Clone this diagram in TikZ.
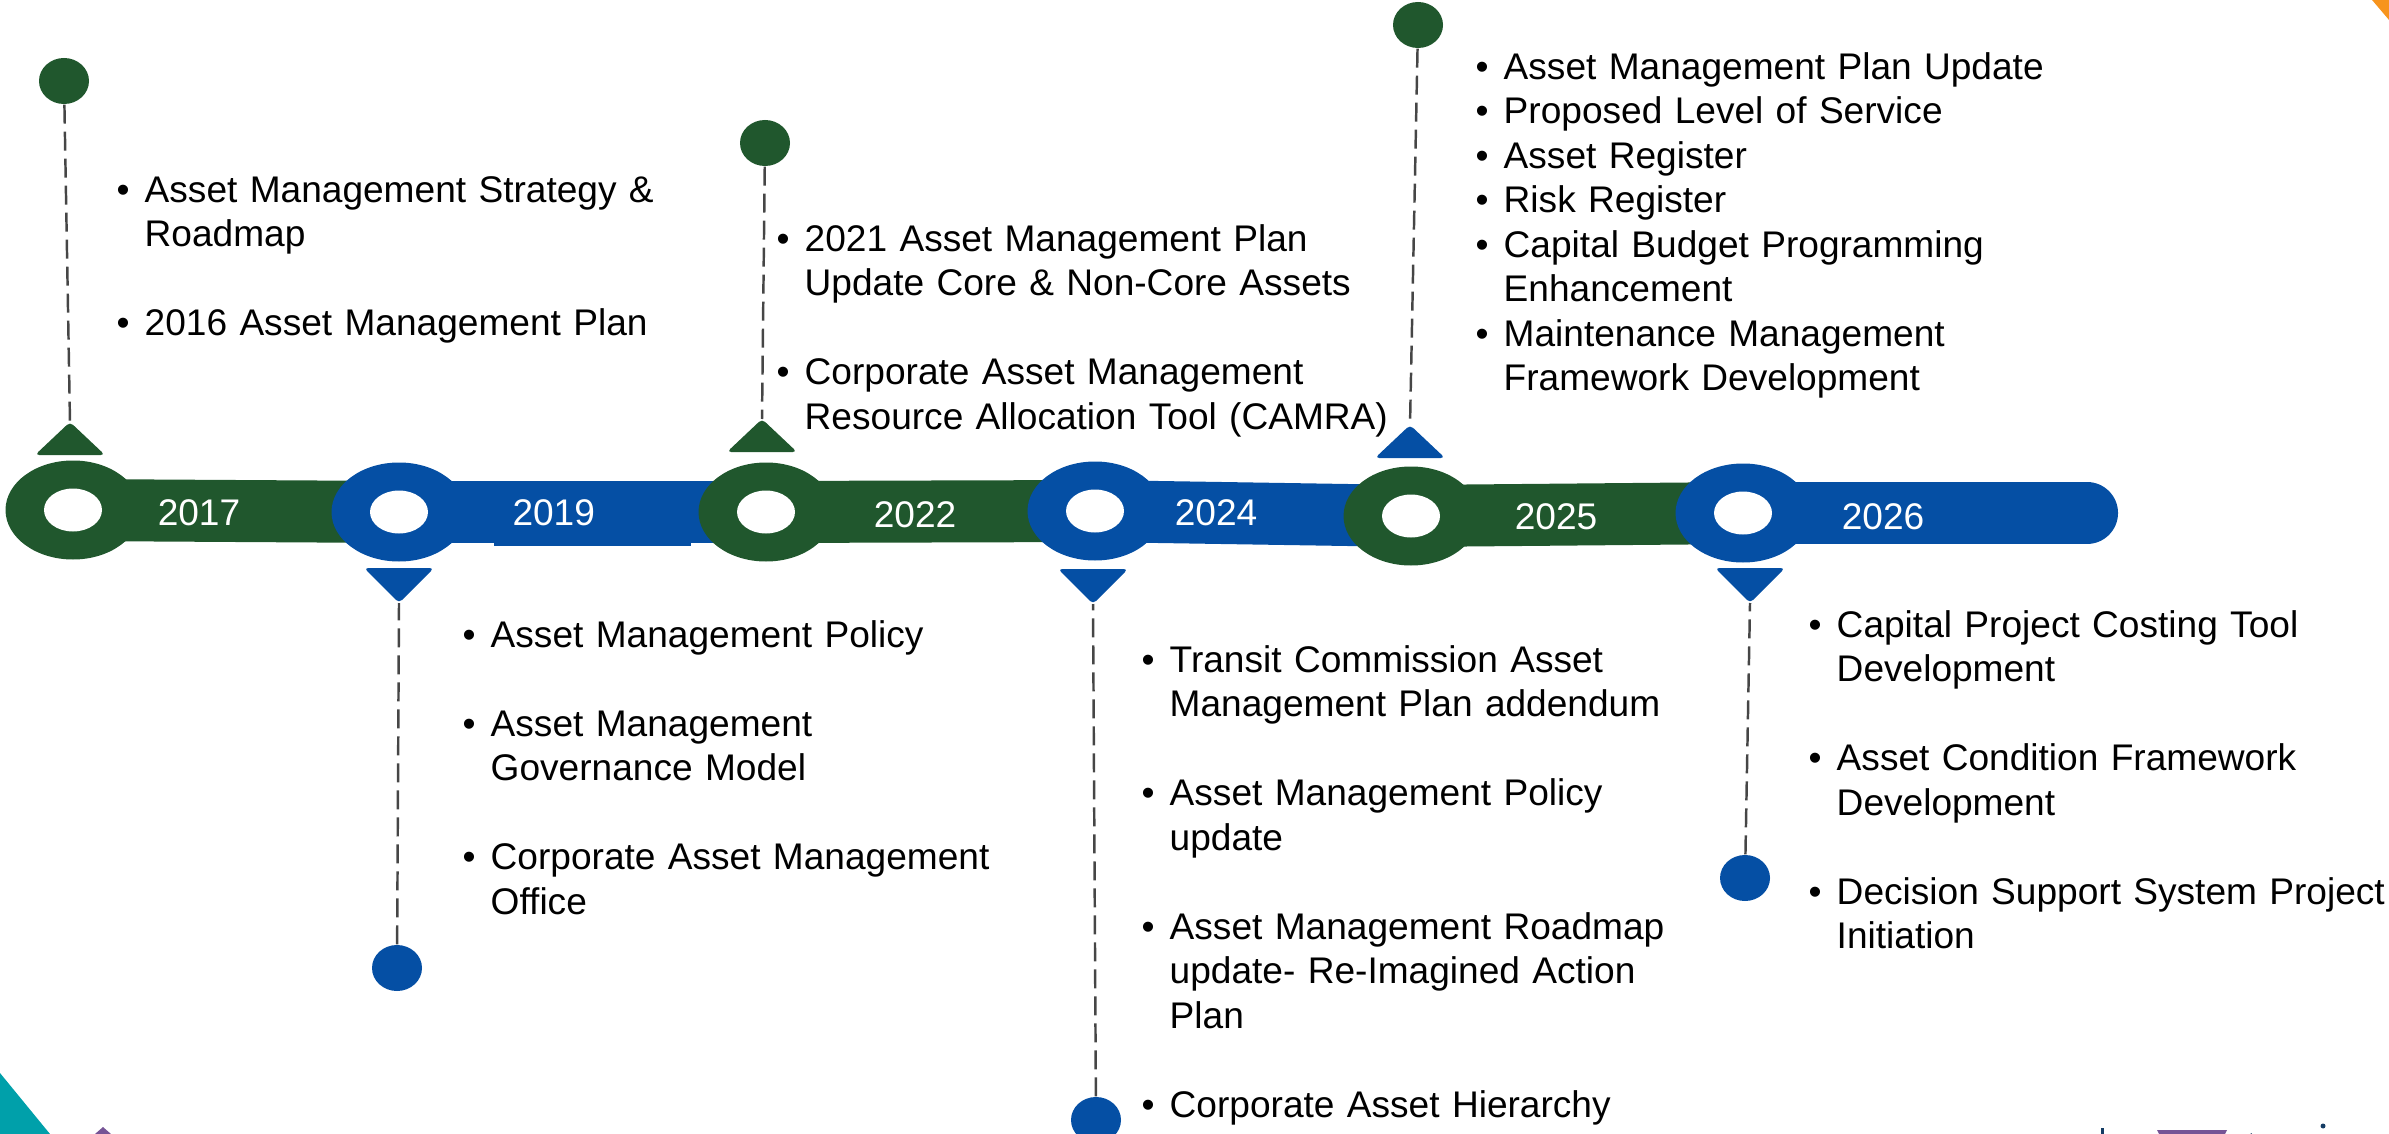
\documentclass[tikz,border=0pt]{standalone}
\usepackage{fontspec}
\setmainfont{Liberation Sans}
\usetikzlibrary{shapes.geometric, backgrounds}
\definecolor{amGreen}{RGB}{32,87,45}
\definecolor{amBlue}{RGB}{5,79,164}
\definecolor{amGrey}{RGB}{70,70,70}
\definecolor{amTeal}{RGB}{0,160,170}
\definecolor{amOrange}{RGB}{247,148,29}
\definecolor{amPurple}{RGB}{118,84,150}
\definecolor{amNavy}{RGB}{20,60,100}
\newlength{\bhang}\setlength{\bhang}{2.8mm}
\newcommand{\bitem}[1]{\par\hangindent=\bhang\hangafter=1\noindent\hbox to\bhang{\textbullet\hfil}#1\par}
\newcommand{\bgap}{\par\vspace{12.66pt}}
\tikzset{
  ring/.style={ellipse, inner sep=0pt, minimum width=13.5mm, minimum height=9.9mm},
  hole/.style={ellipse, fill=white, inner sep=0pt, minimum width=5.8mm, minimum height=4.3mm},
  dot/.style={ellipse, inner sep=0pt, minimum width=5mm, minimum height=4.6mm},
  bar/.style={line width=6.2mm},
  year/.style={text=white, inner sep=0pt, font=\fontsize{10.55}{12.66}\selectfont},
  lead/.style={amGrey, line width=0.7pt, dash pattern=on 1.9mm off 0.8mm},
  notes/.style={anchor=base west, text width=75mm, align=left, inner sep=0pt,
                font=\fontsize{10.55}{12.66}\selectfont},
  upmark/.pic={\fill[rounded corners=1.2pt] (-35,0) -- (0,-33) -- (35,0) -- cycle;},
  downmark/.pic={\fill[rounded corners=1.2pt] (-35,0) -- (0,35) -- (35,0) -- cycle;},
}

\begin{document}
\begin{tikzpicture}[x=0.1mm, y=-0.1mm]
    \useasboundingbox (0,0) rectangle (2389,1134);
    % corner pieces
    \fill[amTeal] (0,1073) -- (50,1134) -- (0,1134) -- cycle;
    \fill[amPurple] (95,1134) -- (103,1127) -- (111,1134) -- cycle;
    \fill[amOrange] (2372,0) -- (2389,0) -- (2389,20) -- cycle;
    \fill[amPurple] (2157,1130) -- (2227,1130) -- (2225,1134) -- (2159,1134) -- cycle;
    \fill[amNavy] (2101,1128) rectangle (2104,1134);
    \draw[amNavy, line width=1pt] (2250,1134) arc[start angle=180, end angle=20, x radius=15, y radius=6];
    \fill[amNavy] (2323,1126) circle (2.5);
    % timeline
    \node[ring, fill=amGreen] (r17) at (73,510)   {};
    \node[ring, fill=amBlue]  (r19) at (399,512)  {};
    \node[ring, fill=amGreen] (r22) at (766,512)  {};
    \node[ring, fill=amBlue]  (r24) at (1095,511) {};
    \node[ring, fill=amGreen] (r25) at (1411,516) {};
    \node[ring, fill=amBlue]  (r26) at (1743,513) {};
    \coordinate (e26) at (2087,513);
    \foreach \r in {r17,r19,r22,r24,r25,r26}
      \node[hole] at (\r) {};
    \begin{scope}[on background layer]
      \draw[bar, amGreen] (r17.center) -- (r19.center);
      \draw[bar, amBlue]  (r19.center) -- (r22.center);
      \draw[bar, amGreen] (r22.center) -- (r24.center);
      \draw[bar, amBlue]  (r24.center) -- (r25.center);
      \draw[bar, amGreen] (r25.center) -- (r26.center);
      \draw[bar, amBlue, line cap=round] (r26.center) -- (e26);
    \end{scope}
    \node[year] (y17) at (199,513)  {2017};
    \node[year, fill=amBlue, text width=15.9mm, inner xsep=1.9mm, minimum height=6.5mm, align=left]
      (y19) at (592,513) {2019};
    \node[year] (y22) at (915,515)  {2022};
    \node[year] (y24) at (1216,513) {2024};
    \node[year] (y25) at (1556,517) {2025};
    \node[year] (y26) at (1883,517) {2026};
    % markers
    \pic[color=amGreen] at (70,455)   {upmark};
    \pic[color=amBlue]  at (399,568)  {downmark};
    \pic[color=amGreen] at (762,452)  {upmark};
    \pic[color=amBlue]  at (1093,569) {downmark};
    \pic[color=amBlue]  at (1410,458) {upmark};
    \pic[color=amBlue]  at (1750,568) {downmark};
    \coordinate (t17) at (70,422);
    \coordinate (t19) at (399,603);
    \coordinate (t22) at (762,419);
    \coordinate (t24) at (1093,604);
    \coordinate (t25) at (1410,425);
    \coordinate (t26) at (1750,603);
    \node[dot, fill=amGreen] (d17) at (64,81)    {};
    \node[dot, fill=amBlue]  (d19) at (397,968)  {};
    \node[dot, fill=amGreen] (d22) at (765,143)  {};
    \node[dot, fill=amBlue]  (d24) at (1096,1120) {};
    \node[dot, fill=amGreen] (d25) at (1418,25)  {};
    \node[dot, fill=amBlue]  (d26) at (1745,878) {};
    \draw[lead] (d17) -- (t17);
    \draw[lead] (d19) -- (t19);
    \draw[lead] (d22) -- (t22);
    \draw[lead] (d24) -- (t24);
    \draw[lead] (d25) -- (t25);
    \draw[lead] (d26) -- (t26);
    % notes
    \node[notes] (n17) at (116,158) {\bitem{Asset Management Strategy \&\newline Roadmap}\bgap
      \bitem{2016 Asset Management Plan}};
    \node[notes] (n19) at (462,603) {\bitem{Asset Management Policy}\bgap
      \bitem{Asset Management\newline Governance Model}\bgap
      \bitem{Corporate Asset Management\newline Office}};
    \node[notes] (n22) at (776,207) {\bitem{2021 Asset Management Plan\newline Update Core \& Non-Core Assets}\bgap
      \bitem{Corporate Asset Management\newline Resource Allocation Tool (CAMRA)}};
    \node[notes] (n24) at (1141,628) {\bitem{Transit Commission Asset\newline Management Plan addendum}\bgap
      \bitem{Asset Management Policy\newline update}\bgap
      \bitem{Asset Management Roadmap\newline update- Re-Imagined Action\newline Plan}\bgap
      \bitem{Corporate Asset Hierarchy}};
    \node[notes] (n25) at (1475,35) {\bitem{Asset Management Plan Update}
      \bitem{Proposed Level of Service}
      \bitem{Asset Register}
      \bitem{Risk Register}
      \bitem{Capital Budget Programming\newline Enhancement}
      \bitem{Maintenance Management\newline Framework Development}};
    \node[notes] (n26) at (1808,593) {\bitem{Capital Project Costing Tool\newline Development}\bgap
      \bitem{Asset Condition Framework\newline Development}\bgap
      \bitem{Decision Support System Project\newline Initiation}};
\end{tikzpicture}
\end{document}
